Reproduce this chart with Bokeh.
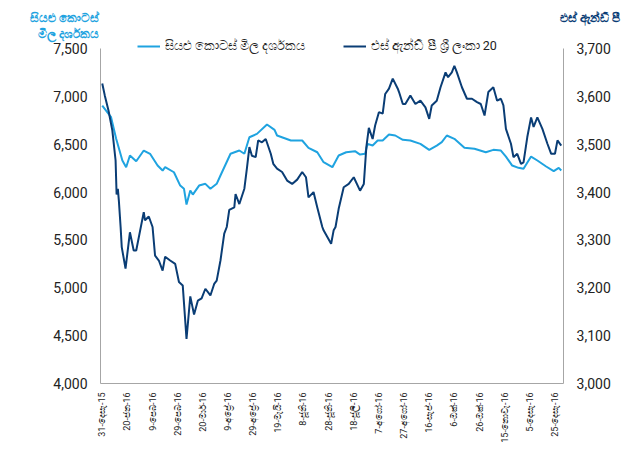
from bokeh.plotting import figure
from bokeh.models import Range1d, LinearAxis, FixedTicker, NumeralTickFormatter, Label, Legend, LegendItem
from bokeh.embed import file_html
from bokeh.resources import INLINE
from math import pi

# x positions are day offsets from 31 Dec 2015
tick_days = [0, 20, 40, 60, 80, 100, 120, 140, 160, 180, 200, 220, 240, 260, 280, 300, 320, 340, 360]
tick_labels = ["31-දෙසැ-15", "20-ජන-16", "9-පෙබ-16", "29-පෙබ-16", "20-මාර්-16", "9-අප්‍රේ-16",
               "29-අප්‍රේ-16", "19-මැයි-16", "8-ජූනි-16", "28-ජූනි-16", "18-ජූලි-16", "7-අගෝ-16",
               "27-අගෝ-16", "16-සැප්-16", "6-ඔක්-16", "26-ඔක්-16", "15-නොවැ-16", "5-දෙසැ-16", "25-දෙසැ-16"]

left_ticks = [4000, 4500, 5000, 5500, 6000, 6500, 7000, 7500]
right_ticks = [3000, 3100, 3200, 3300, 3400, 3500, 3600, 3700]

left_title = ["සියළු කොටස්", "මිල දර්ශකය"]
right_title = "එස් ඇන්ඩ් පී"
series_names = ["සියළු කොටස් මිල දර්ශකය", "එස් ඇන්ඩ් පී ශ්‍රී ලංකා 20"]

aspi_days = [0, 7, 11, 16, 19, 22, 27, 33, 38, 44, 48, 50, 57, 62, 65, 67, 70, 72, 77, 82, 86, 91, 94,
             102, 109, 113, 117, 123, 131, 137, 139, 150, 159, 164, 171, 176, 183, 188, 194, 201, 205,
             209, 211, 215, 219, 223, 228, 233, 239, 245, 253, 260, 266, 270, 274, 280, 288, 296, 305,
             311, 317, 321, 326, 331, 335, 341, 346, 353, 359, 363, 365]
aspi_vals = [6904, 6782, 6560, 6330, 6260, 6382, 6322, 6434, 6400, 6277, 6225, 6260, 6207, 6068, 6034,
             5870, 6016, 5974, 6068, 6086, 6034, 6086, 6173, 6400, 6434, 6400, 6573, 6608, 6706, 6650,
             6591, 6539, 6539, 6462, 6416, 6312, 6260, 6382, 6416, 6427, 6392, 6400, 6504, 6486, 6539,
             6539, 6601, 6591, 6546, 6539, 6504, 6441, 6486, 6521, 6591, 6556, 6462, 6452, 6416, 6441,
             6434, 6371, 6277, 6253, 6243, 6371, 6330, 6267, 6218, 6253, 6225]

snp_days = [0, 2, 5, 8, 10.6, 11.4, 12.4, 13.2, 14.6, 15.5, 18.5, 22, 25, 27, 33, 34, 37, 40, 42, 45,
            48, 50, 54, 58, 61, 64, 67, 70, 73, 76, 79, 82, 86, 89, 91, 94, 97, 99, 101, 105, 106, 109,
            113, 115, 117, 119, 122, 124, 127, 130, 134, 136, 139, 143, 147, 151, 155, 159, 162, 164,
            168, 171, 175, 176, 179, 182, 184, 185.5, 188, 192, 196, 200, 205, 208, 210, 212, 215, 217,
            220, 223, 225, 228, 231, 235, 236, 239, 241, 245, 249, 253, 257, 260, 262, 266, 269, 273,
            275, 278, 280, 282, 286, 290, 294, 298, 301, 304, 307, 311, 314, 317, 319, 321, 325, 327,
            330, 333, 335, 338, 341, 343, 346, 350, 354, 357, 360, 362, 365]
snp_vals = [3627, 3602, 3570, 3529, 3466, 3395, 3407, 3382, 3327, 3285, 3240, 3316, 3278, 3278, 3358,
            3341, 3349, 3327, 3267, 3257, 3236, 3265, 3257, 3250, 3212, 3205, 3093, 3182, 3144, 3173,
            3178, 3198, 3184, 3208, 3215, 3257, 3313, 3327, 3363, 3368, 3396, 3375, 3407, 3449, 3494,
            3476, 3473, 3508, 3504, 3511, 3480, 3459, 3449, 3442, 3424, 3417, 3426, 3442, 3431, 3389,
            3400, 3368, 3327, 3320, 3306, 3292, 3320, 3327, 3365, 3410, 3417, 3431, 3403, 3417, 3494,
            3534, 3511, 3539, 3567, 3564, 3605, 3616, 3637, 3616, 3609, 3584, 3584, 3602, 3584, 3591,
            3577, 3553, 3581, 3591, 3619, 3650, 3640, 3650, 3664, 3650, 3619, 3595, 3595, 3588, 3584,
            3560, 3609, 3619, 3591, 3595, 3581, 3532, 3501, 3473, 3480, 3459, 3462, 3515, 3556, 3536,
            3556, 3532, 3501, 3480, 3480, 3508, 3497]

LIGHT = "#1FA3E0"
NAVY = "#0A3D75"
FONT = "Roboto"
W, H = 621, 445

# The frame covers the whole canvas; axes are drawn at fixed positions inside it,
# so the axis titles (outside the plotting area) are not clipped.
X0, X1 = -1.4, 366.8          # plotting area in days (page x 100 .. 563)
p = figure(width=W, height=H, output_backend="svg", toolbar_location=None,
           x_range=Range1d(-80.92, 412.91), y_range=Range1d(3352.2, 8001.5),
           x_axis_location=None, y_axis_location=None,
           min_border_left=0, min_border_right=0, min_border_top=0, min_border_bottom=0)
p.extra_y_ranges = {"snp": Range1d(2870.45, 3800.3)}
p.xgrid.visible = False
p.ygrid.visible = False
p.outline_line_color = None

r1 = p.line(aspi_days, aspi_vals, line_color=LIGHT, line_width=2)
r2 = p.line(snp_days, snp_vals, line_color=NAVY, line_width=2, y_range_name="snp")

laxis = LinearAxis(fixed_location=X0, bounds=(4000, 7500))
raxis = LinearAxis(y_range_name="snp", fixed_location=X1, bounds=(3000, 3700))
p.add_layout(laxis, "left")
p.add_layout(raxis, "right")
laxis.ticker = FixedTicker(ticks=left_ticks)
raxis.ticker = FixedTicker(ticks=right_ticks)
for ax in [laxis, raxis]:
    ax.formatter = NumeralTickFormatter(format="0,0")
    ax.axis_line_color = "#A6A6A6"
    ax.major_tick_line_color = None
    ax.minor_tick_line_color = None
    ax.major_label_text_font_size = "14px"
    ax.major_label_text_font = FONT
    ax.major_label_text_color = "#222222"
    ax.major_label_standoff = 7

xa = LinearAxis(fixed_location=4000, bounds=(X0, X1))
p.add_layout(xa, "below")
xa.ticker = FixedTicker(ticks=tick_days)
xa.major_label_overrides = {d: lab for d, lab in zip(tick_days, tick_labels)}
xa.major_label_orientation = pi / 2
xa.axis_line_color = "#A6A6A6"
xa.major_tick_line_color = None
xa.minor_tick_line_color = None
xa.major_label_text_font_size = "9px"
xa.major_label_text_font = FONT
xa.major_label_text_color = "#222222"
xa.major_label_standoff = 3

legend = Legend(items=[LegendItem(label=series_names[0], renderers=[r1]),
                       LegendItem(label=series_names[1], renderers=[r2])],
                orientation="horizontal", location=(137, 391), padding=0, margin=0,
                spacing=38, glyph_width=23, glyph_height=14, label_height=14,
                label_standoff=5, label_text_font_size="12.5px", label_text_font=FONT,
                label_text_color="#222222", background_fill_alpha=0, border_line_color=None)
p.add_layout(legend)

# axis titles, placed in screen pixels (origin bottom-left of canvas)
p.add_layout(Label(x=98, y=H - 17, x_units="screen", y_units="screen", text=left_title[0],
                   text_align="right", text_baseline="middle", text_font_size="12px",
                   text_font=FONT, text_font_style="bold", text_color=LIGHT))
p.add_layout(Label(x=98, y=H - 33, x_units="screen", y_units="screen", text=left_title[1],
                   text_align="right", text_baseline="middle", text_font_size="12px",
                   text_font=FONT, text_font_style="bold", text_color=LIGHT))
p.add_layout(Label(x=619, y=H - 17, x_units="screen", y_units="screen", text=right_title,
                   text_align="right", text_baseline="middle", text_font_size="12px",
                   text_font=FONT, text_font_style="bold", text_color=NAVY))

open("out.html", "w").write(file_html(p, INLINE))
